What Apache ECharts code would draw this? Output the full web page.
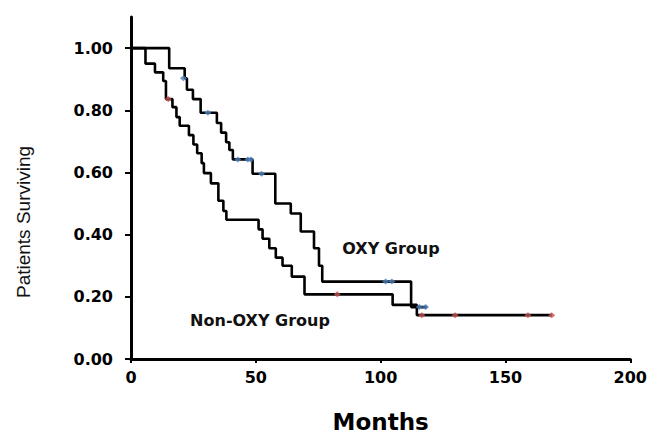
<!DOCTYPE html>
<html>
<head>
<meta charset="utf-8">
<script src="https://cdn.jsdelivr.net/npm/echarts@6/dist/echarts.min.js"></script>
<style>
html,body{margin:0;padding:0;background:#fff;}
#chart{width:650px;height:438px;}
</style>
</head>
<body>
<div id="chart"></div>
<script>
// Kaplan-Meier step points (month at which survival becomes the value)
const oxyMonths    = [0, 15.3, 21.5, 22.4, 24.8, 27.9, 34.4, 36.1, 38.1, 39.4, 40.8, 48.7, 57.8, 64.0, 68.0, 73.3, 75.3, 76.6, 112.2, 118.5];
const oxySurvival  = [1.0, 0.935, 0.903, 0.866, 0.836, 0.792, 0.759, 0.728, 0.697, 0.672, 0.642, 0.596, 0.50, 0.468, 0.41, 0.356, 0.30, 0.249, 0.167, 0.167];

const nonOxyMonths   = [0, 5.8, 9.6, 12.9, 14.0, 16.6, 18.2, 19.5, 23.2, 25.0, 26.5, 28.3, 29.2, 32.0, 35.0, 37.0, 38.2, 51.1, 52.7, 55.4, 58.0, 60.7, 64.4, 69.5, 104.8, 114.5, 168.5];
const nonOxySurvival = [1.0, 0.95, 0.922, 0.894, 0.836, 0.81, 0.778, 0.75, 0.72, 0.69, 0.662, 0.63, 0.598, 0.565, 0.509, 0.476, 0.448, 0.417, 0.387, 0.356, 0.326, 0.30, 0.265, 0.208, 0.174, 0.141, 0.141];

// Censored observations
const oxyCensorMonths   = [21.0, 30.8, 42.8, 46.8, 48.0, 52.3, 102.0, 104.5, 115.5, 118.0];
const oxyCensorSurvival = [0.903, 0.792, 0.642, 0.642, 0.642, 0.596, 0.249, 0.249, 0.167, 0.167];
const nonOxyCensorMonths   = [14.9, 82.6, 116.5, 129.8, 159.0, 168.5];
const nonOxyCensorSurvival = [0.836, 0.208, 0.141, 0.141, 0.141, 0.141];

const yTicks = [0, 0.2, 0.4, 0.6, 0.8, 1.0];
const xTicks = [0, 50, 100, 150, 200];

const pair = (xs, ys) => xs.map((x, i) => [x, ys[i]]);

const chart = echarts.init(document.getElementById('chart'), null, {renderer: 'svg'});
const tickFont = {fontFamily: 'DejaVu Sans', fontWeight: 'bold', fontSize: 16, color: '#000'};

chart.setOption({
  animation: false,
  backgroundColor: '#fff',
  grid: {left: 131, right: 17, top: 17, bottom: 63.5, containLabel: false},
  xAxis: {
    type: 'value', min: 0, max: 200, interval: 50,
    axisLine: {show: true, lineStyle: {color: '#000', width: 3}},
    axisTick: {show: true, length: 4, lineStyle: {color: '#000', width: 2}, customValues: xTicks},
    axisLabel: Object.assign({margin: 10, customValues: xTicks}, tickFont),
    splitLine: {show: false},
    name: 'Months', nameLocation: 'middle', nameGap: 51,
    nameTextStyle: {fontFamily: 'DejaVu Sans', fontWeight: 'bold', fontSize: 23, color: '#000'}
  },
  yAxis: {
    type: 'value', min: 0, max: 1.1,
    axisLine: {show: true, lineStyle: {color: '#000', width: 3}},
    axisTick: {show: true, length: 6, lineStyle: {color: '#000', width: 2}, customValues: yTicks},
    axisLabel: Object.assign({margin: 18, customValues: yTicks, formatter: v => v.toFixed(2)}, tickFont),
    splitLine: {show: false}
  },
  graphic: [
    {type: 'text', x: 23, y: 222, rotation: Math.PI / 2,
     style: {text: 'Patients Surviving', font: '19px "Liberation Sans"', fill: '#111', textAlign: 'center', textVerticalAlign: 'middle'}},
    {type: 'text', x: 391, y: 248,
     style: {text: 'OXY Group', font: 'bold 16px "DejaVu Sans"', fill: '#111', textAlign: 'center', textVerticalAlign: 'middle'}},
    {type: 'text', x: 260, y: 320,
     style: {text: 'Non-OXY Group', font: 'bold 16px "DejaVu Sans"', fill: '#111', textAlign: 'center', textVerticalAlign: 'middle'}}
  ],
  series: [
    {name: 'OXY Group', type: 'line', step: 'end', showSymbol: false, z: 2,
     lineStyle: {color: '#000', width: 2.6}, data: pair(oxyMonths, oxySurvival)},
    {name: 'Non-OXY Group', type: 'line', step: 'end', showSymbol: false, z: 2,
     lineStyle: {color: '#000', width: 2.6}, data: pair(nonOxyMonths, nonOxySurvival)},
    {name: 'OXY censored', type: 'scatter', symbol: 'diamond', symbolSize: [7, 6], z: 3,
     itemStyle: {color: '#4f81bd'}, data: pair(oxyCensorMonths, oxyCensorSurvival)},
    {name: 'Non-OXY censored', type: 'scatter', symbol: 'diamond', symbolSize: [7, 6], z: 3,
     itemStyle: {color: '#c0504d'}, data: pair(nonOxyCensorMonths, nonOxyCensorSurvival)}
  ]
});
</script>
</body>
</html>
